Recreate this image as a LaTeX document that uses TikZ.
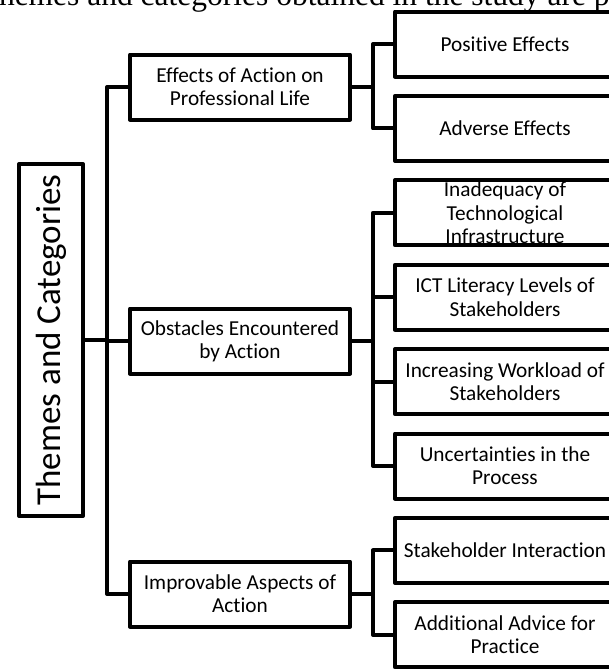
\documentclass[tikz,border=0pt]{standalone}
\usepackage{fontspec}
\setmainfont[Ligatures=NoCommon]{Carlito}
\newfontfamily\textline{Liberation Serif}

\begin{document}
\begin{tikzpicture}[x=1pt,y=-1pt,line width=4pt,line join=round,
every node/.style={rectangle,draw,inner sep=0pt,align=center,
  font=\fontsize{21.3}{23.2}\selectfont},
box/.style={minimum width=220pt,minimum height=65pt}]
\useasboundingbox (0,0) rectangle (609,670);
% line of text cut at the top
\node[draw=none,anchor=base west,font=\textline\fontsize{31.5}{36}\selectfont] (L0) at (-3,5) {hemes and categories obtained in the study are p};
% root
\node[minimum width=64pt,minimum height=352pt] (T) at (51,340) {\fontsize{35}{40}\selectfont\rotatebox{90}{Themes and Categories}};
% themes
\node[box] (C1) at (240,87) {Effects of Action on\\Professional Life};
\node[box] (C2) at (240,341) {Obstacles Encountered\\by Action};
\node[box] (C3) at (240,594) {Improvable Aspects of\\Action};
% categories
\node[box] (S1) at (505,44) {Positive Effects};
\node[box] (S2) at (505,128.4) {Adverse Effects};
\node[box] (S3) at (505,212.8) {Inadequacy of\\Technological\\Infrastructure};
\node[box] (S4) at (505,297.2) {ICT Literacy Levels of\\Stakeholders};
\node[box] (S5) at (505,381.6) {Increasing Workload of\\Stakeholders};
\node[box] (S6) at (505,466) {Uncertainties in the\\Process};
\node[box] (S7) at (505,550.4) {Stakeholder Interaction};
\node[box] (S8) at (505,634.8) {Additional Advice for\\Practice};
% connectors
\coordinate (b0) at (107,0);
\coordinate (b1) at (373,0);
\draw (T.east) -- (T.east -| b0);
\draw (C1.west) -- (C1.west -| b0) -- (C3.west -| b0) -- (C3.west);
\draw (C2.west) -- (C2.west -| b0);
\draw (C1.east) -- (C1.east -| b1);
\draw (S1.west) -- (S1.west -| b1) -- (S2.west -| b1) -- (S2.west);
\draw (C2.east) -- (C2.east -| b1);
\draw (S3.west) -- (S3.west -| b1) -- (S6.west -| b1) -- (S6.west);
\draw (S4.west) -- (S4.west -| b1);
\draw (S5.west) -- (S5.west -| b1);
\draw (C3.east) -- (C3.east -| b1);
\draw (S7.west) -- (S7.west -| b1) -- (S8.west -| b1) -- (S8.west);
\end{tikzpicture}
\end{document}
